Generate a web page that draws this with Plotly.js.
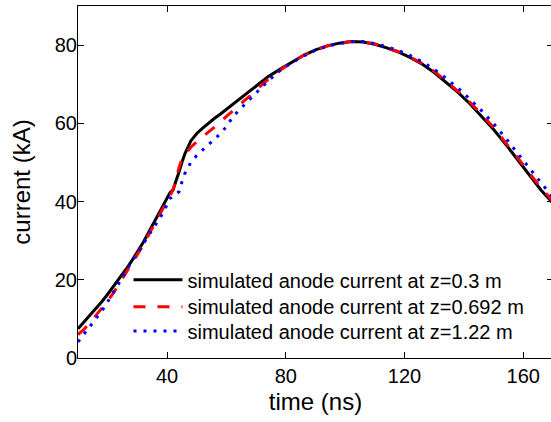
<!DOCTYPE html>
<html>
<head>
<meta charset="utf-8">
<script src="https://cdn.plot.ly/plotly-3.0.1.min.js"></script>
<style>
html,body{margin:0;padding:0;overflow:hidden;background:#fff;}
#chart{width:553px;height:422px;}
</style>
</head>
<body>
<div id="chart"></div>
<script>
// time (ns) and current (kA) for each simulated anode current
const timeA = [10,12,14,16,18,20,22,24,26,28,30,32,34,36,38,40,41,42,43,44,45,46,48,50,52,54,56,58,60,62,64,66,68,70,74,78,82,86,90,94,98,102,106,110,114,118,122,126,130,134,138,142,146,150,154,158,162,166,170];
const currentZ03 = [7.5,9.2,10.8,12.6,14.4,16.3,18.3,20.3,22.5,24.7,27.0,29.6,32.4,35.2,38.0,40.9,42.3,43.0,45.0,47.5,50.0,52.2,55.5,57.4,58.8,60.1,61.3,62.4,63.6,64.8,66.0,67.2,68.3,69.6,71.9,73.8,75.7,77.4,78.8,79.8,80.5,80.9,80.8,80.2,79.3,78.2,76.8,75.1,73.0,70.5,67.9,65.0,61.8,58.4,54.7,50.8,46.8,42.9,39.6];
const currentZ0692 = [6.0,7.3,9.0,10.8,12.6,14.6,16.7,19.0,21.6,24.0,26.4,28.9,31.8,34.6,37.5,40.2,41.6,42.9,45.5,48.6,50.8,52.0,53.9,55.3,56.6,57.8,59.0,60.3,61.8,63.0,64.4,65.8,67.0,68.6,71.2,73.5,75.6,77.4,78.8,79.8,80.5,80.9,80.8,80.3,79.4,78.3,76.9,75.3,73.3,70.8,68.2,65.4,62.3,58.9,55.2,51.3,47.3,43.5,40.1];
const timeC = [10,12,14,16,18,20,22,24,26,28,30,32,34,36,38,39,40,41,42,43,44,44.5,45,46,48,50,52,54,56,58,60,62,64,66,68,70,74,78,82,86,90,94,98,102,106,110,114,118,122,126,130,134,138,142,146,150,154,158,162,166,170];
const currentZ122 = [4.1,6.0,8.0,10.0,12.0,14.4,16.8,19.3,21.9,24.6,26.7,29.2,31.6,34.0,36.3,37.5,39.3,40.8,41.3,41.9,42.5,43.5,45.0,47.2,50.0,51.8,53.2,54.6,55.9,57.4,59.2,61.5,63.2,64.7,66.3,67.8,70.8,73.5,75.5,77.2,78.7,79.7,80.4,80.9,80.9,80.4,79.6,78.6,77.3,75.7,73.8,71.5,69.0,66.2,63.2,59.9,56.3,52.4,48.5,44.7,41.0];
const seriesNames = ["simulated anode current at z=0.3 m","simulated anode current at z=0.692 m","simulated anode current at z=1.22 m"];
const xTicks = [40,80,120,160];
const yTicks = [0,20,40,60,80];

const traces = [
  {x: timeA, y: currentZ03, name: seriesNames[0], mode: 'lines', legend: 'legend',
   line: {color: '#000000', width: 3}},
  {x: timeA, y: currentZ0692, name: seriesNames[1], mode: 'lines', legend: 'legend2',
   line: {color: '#ff0000', width: 3, dash: '12px,12px'}},
  {x: timeC, y: currentZ122, name: seriesNames[2], mode: 'lines', legend: 'legend3',
   line: {color: '#0000ff', width: 3, dash: '3px,7px'}}
];

const fontFam = 'Liberation Sans, Arial, sans-serif';
function leg(y) {
  return {x: 0.1063, y: y, xanchor: 'left', yanchor: 'top',
          bgcolor: 'rgba(0,0,0,0)', borderwidth: 0,
          font: {family: fontFam, size: 20, color: '#000'}, itemwidth: 49};
}
const layout = {
  width: 553, height: 422,
  margin: {l: 78, r: 0, t: 6, b: 64, pad: 0},
  paper_bgcolor: '#ffffff', plot_bgcolor: '#ffffff',
  font: {family: fontFam, size: 20, color: '#000'},
  showlegend: true,
  legend: leg(0.2778),
  legend2: leg(0.2012),
  legend3: leg(0.1321),
  xaxis: {range: [10, 170], tickvals: xTicks, ticks: 'inside', ticklen: 6, tickwidth: 1,
          tickcolor: '#000', showline: true, linecolor: '#000', linewidth: 1, mirror: 'ticks',
          showgrid: false, zeroline: false,
          tickfont: {family: fontFam, size: 20, color: '#000'},
          title: {text: 'time (ns)', font: {family: fontFam, size: 24, color: '#000'}, standoff: 7}},
  yaxis: {range: [0, 90], tickvals: yTicks, ticks: 'inside', ticklen: 6, tickwidth: 1,
          tickcolor: '#000', showline: true, linecolor: '#000', linewidth: 1, mirror: 'ticks',
          showgrid: false, zeroline: false, ticklabelstandoff: -4,
          tickfont: {family: fontFam, size: 20, color: '#000'},
          title: {text: 'current (kA)', font: {family: fontFam, size: 24, color: '#000'}, standoff: 17}}
};

Plotly.newPlot('chart', traces, layout, {displayModeBar: false, staticPlot: true});
</script>
</body>
</html>
